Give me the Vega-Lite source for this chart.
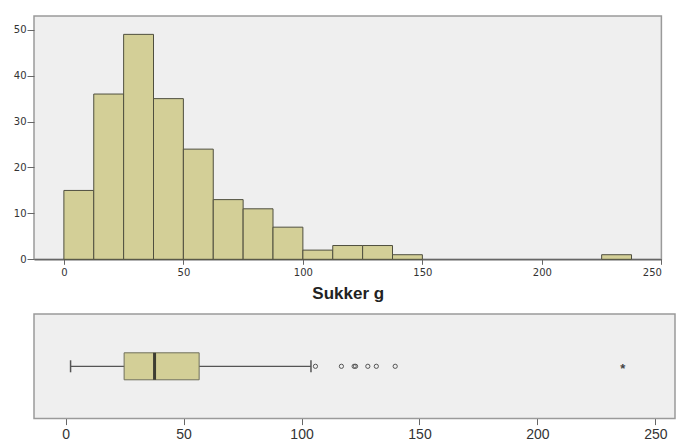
{
  "$schema": "https://vega.github.io/schema/vega-lite/v6.json",
  "padding": {"left": 12, "top": 15, "right": 0, "bottom": 0},
  "autosize": {"type": "pad"},
  "bounds": "flush",
  "spacing": 54,
  "background": "#ffffff",
  "config": {
    "view": {"fill": "#efefef", "stroke": "#9a9a9a", "strokeWidth": 1.5},
    "axis": {"grid": false, "domain": false, "tickColor": "#666666", "labelColor": "#333333"}
  },
  "datasets": {
    "bins": [
      {"bin_start": 0, "bin_end": 12.5, "count": 15},
      {"bin_start": 12.5, "bin_end": 25, "count": 36},
      {"bin_start": 25, "bin_end": 37.5, "count": 49},
      {"bin_start": 37.5, "bin_end": 50, "count": 35},
      {"bin_start": 50, "bin_end": 62.5, "count": 24},
      {"bin_start": 62.5, "bin_end": 75, "count": 13},
      {"bin_start": 75, "bin_end": 87.5, "count": 11},
      {"bin_start": 87.5, "bin_end": 100, "count": 7},
      {"bin_start": 100, "bin_end": 112.5, "count": 2},
      {"bin_start": 112.5, "bin_end": 125, "count": 3},
      {"bin_start": 125, "bin_end": 137.5, "count": 3},
      {"bin_start": 137.5, "bin_end": 150, "count": 1},
      {"bin_start": 225, "bin_end": 237.5, "count": 1}
    ],
    "box": [
      {"lower": 2.1, "q1": 24.8, "median": 37.7, "q3": 56.6, "upper": 104}
    ],
    "outliers": [
      {"value": 105.9},
      {"value": 116.9},
      {"value": 122.3},
      {"value": 122.9},
      {"value": 128.1},
      {"value": 131.7},
      {"value": 139.7}
    ],
    "extremes": [
      {"value": 236.2}
    ]
  },
  "vconcat": [
    {
      "width": 627.4,
      "height": 243.3,
      "data": {"name": "bins"},
      "mark": {"type": "bar", "fill": "#d3cf97", "stroke": "#4f4f3f", "strokeWidth": 1},
      "encoding": {
        "x": {
          "field": "bin_start", "type": "quantitative",
          "scale": {"domain": [-12.5, 250], "nice": false, "zero": false},
          "axis": {
            "values": [0, 50, 100, 150, 200, 250],
            "title": "Sukker g",
            "titleFont": "Liberation Sans", "titleFontSize": 17, "titleFontWeight": "bold", "titleColor": "#222222",
            "titlePadding": 8,
            "labelFont": "DejaVu Sans", "labelFontSize": 10,
            "tickSize": 5, "labelPadding": 3,
            "domain": true, "domainColor": "#666666", "domainWidth": 1.5
          }
        },
        "x2": {"field": "bin_end"},
        "y": {
          "field": "count", "type": "quantitative",
          "scale": {"domain": [0, 53], "nice": false},
          "axis": {
            "values": [0, 10, 20, 30, 40, 50],
            "title": null,
            "labelFont": "DejaVu Sans", "labelFontSize": 10,
            "tickSize": 7, "labelPadding": 1
          }
        },
        "y2": {"datum": 0}
      }
    },
    {
      "width": 641,
      "height": 104.6,
      "encoding": {
        "y": {"datum": "Sukker g", "type": "nominal", "axis": null}
      },
      "layer": [
        {
          "data": {"name": "box"},
          "mark": {"type": "rule", "color": "#555555", "strokeWidth": 1.3},
          "encoding": {
            "x": {
              "field": "lower", "type": "quantitative",
              "scale": {"domain": [-13.4, 258.3], "nice": false, "zero": false},
              "axis": {
                "values": [0, 50, 100, 150, 200, 250],
                "title": null,
                "labelFont": "Liberation Sans", "labelFontSize": 14, "labelColor": "#333333",
                "tickSize": 6, "labelPadding": 3
              }
            },
            "x2": {"field": "upper"}
          }
        },
        {
          "data": {"name": "box"},
          "mark": {"type": "bar", "size": 27, "fill": "#d3cf97", "stroke": "#6f6f5a", "strokeWidth": 1},
          "encoding": {
            "x": {"field": "q1", "type": "quantitative"},
            "x2": {"field": "q3"}
          }
        },
        {
          "data": {"name": "box"},
          "mark": {"type": "tick", "size": 27, "thickness": 3, "color": "#3d3d32", "opacity": 1},
          "encoding": {"x": {"field": "median", "type": "quantitative"}}
        },
        {
          "data": {"name": "box"},
          "mark": {"type": "tick", "size": 12, "thickness": 1.5, "color": "#555555", "opacity": 1},
          "encoding": {"x": {"field": "lower", "type": "quantitative"}}
        },
        {
          "data": {"name": "box"},
          "mark": {"type": "tick", "size": 12, "thickness": 1.5, "color": "#555555", "opacity": 1},
          "encoding": {"x": {"field": "upper", "type": "quantitative"}}
        },
        {
          "data": {"name": "outliers"},
          "mark": {"type": "point", "shape": "circle", "filled": false, "size": 18, "stroke": "#555555", "strokeWidth": 1, "opacity": 1},
          "encoding": {"x": {"field": "value", "type": "quantitative"}}
        },
        {
          "data": {"name": "extremes"},
          "mark": {"type": "text", "text": "*", "font": "Liberation Sans", "fontSize": 13, "fontWeight": "bold", "color": "#444444", "dy": 3},
          "encoding": {"x": {"field": "value", "type": "quantitative"}}
        }
      ]
    }
  ]
}
